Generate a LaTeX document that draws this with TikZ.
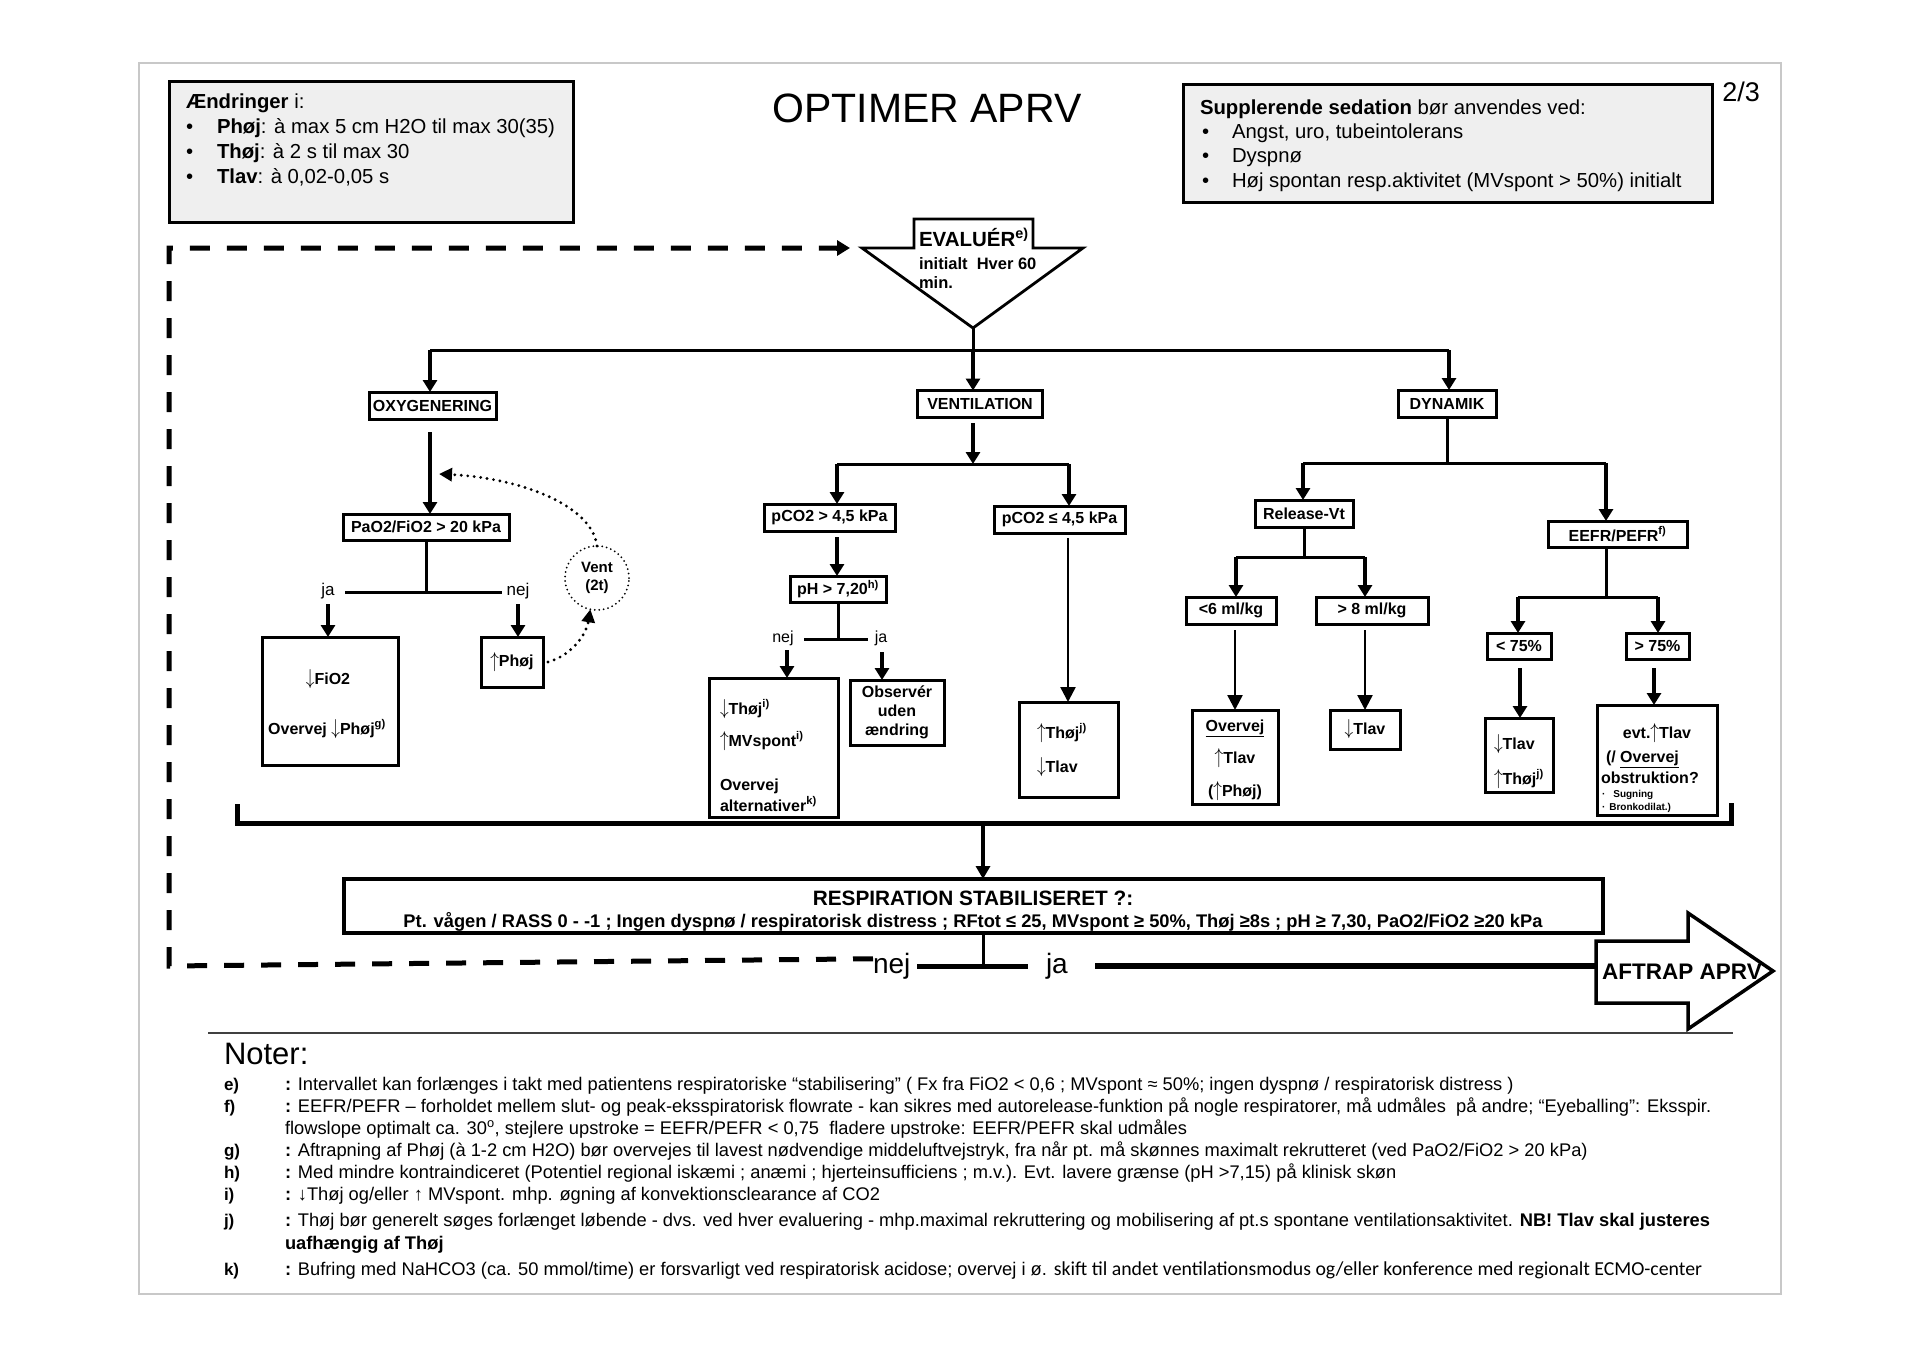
\documentclass[tikz,border=0pt]{standalone}
\usepackage{fontspec}
\setmainfont{Liberation Sans}
\newfontfamily\calfont{Carlito}
\usetikzlibrary{arrows.meta,calc}
\newcommand\fz[2]{\fontsize{#1}{#2}\selectfont}
\newcommand\ua{\raisebox{-0.03em}{\scalebox{1}[1.25]{$\uparrow$}}}
\newcommand\da{\raisebox{-0.03em}{\scalebox{1}[1.25]{$\downarrow$}}}
\definecolor{boxgray}{HTML}{EFEFEF}
\definecolor{framegray}{HTML}{C8C8C8}
\begin{document}
\begin{tikzpicture}[x=1pt,y=-1pt,
 every node/.style={inner sep=0pt,outer sep=0pt},
 bx/.style={draw,line width=3pt,align=center,font=\bfseries\fz{16}{19}},
 tx/.style={anchor=base west},
 ln/.style={line width=3pt},
 thk/.style={line width=4.5pt,-{Triangle[length=12pt,width=14pt]}},
 thn/.style={line width=2.5pt,-{Triangle[length=15pt,width=15pt]}},
 dsh/.style={line width=5pt,dash pattern=on 20pt off 17pt},
 dots/.style={line width=3.2pt,dash pattern=on 0pt off 6.5pt,line cap=round},
 note/.style={anchor=base west,font=\fz{18.3}{20}},
 nlab/.style={anchor=base west,font=\bfseries\fz{17}{20}},
]
\fill[white] (0,0) rectangle (1920,1358);
\useasboundingbox (0,0) rectangle (1920,1358);
\draw[framegray,line width=1.5pt] (139,63) rectangle (1781,1294);

% title and info boxes
\node[font=\fz{41}{48},anchor=base] (title) at (927,122) {OPTIMER APRV};
\node[draw,fill=boxgray,line width=3pt,minimum width=404,minimum height=141] (aendbox) at (371,151.5) {};
\node[tx,font=\fz{20.3}{24}] (a0) at (186,108) {\textbf{Ændringer} i:};
\node[tx,font=\fz{20.3}{24}] (a1b) at (186,133) {•};
\node[tx,font=\fz{20.3}{24}] (a1) at (217,133) {\textbf{Phøj}: à max 5 cm H2O til max 30(35)};
\node[tx,font=\fz{20.3}{24}] (a2b) at (186,158) {•};
\node[tx,font=\fz{20.3}{24}] (a2) at (217,158) {\textbf{Thøj}: à 2 s til max 30};
\node[tx,font=\fz{20.3}{24}] (a3b) at (186,183) {•};
\node[tx,font=\fz{20.3}{24}] (a3) at (217,183) {\textbf{Tlav}: à 0,02-0,05 s};

\node[draw,fill=boxgray,line width=3pt,minimum width=529,minimum height=118] (suppbox) at (1447.5,143) {};
\node[tx,font=\fz{20.3}{24}] (s0) at (1200,114) {\textbf{Supplerende sedation} bør anvendes ved:};
\node[tx,font=\fz{20.3}{24}] (s1b) at (1202,138) {•};
\node[tx,font=\fz{20.3}{24}] (s1) at (1232,138) {Angst, uro, tubeintolerans};
\node[tx,font=\fz{20.3}{24}] (s2b) at (1202,162) {•};
\node[tx,font=\fz{20.3}{24}] (s2) at (1232,162) {Dyspnø};
\node[tx,font=\fz{20.3}{24}] (s3b) at (1202,187) {•};
\node[tx,font=\fz{20.3}{24}] (s3) at (1232,187) {Høj spontan resp.aktivitet (MVspont > 50\%) initialt};
\node[anchor=base,font=\fz{27}{30}] (page) at (1741,101) {2/3};

% evaluate shape
\draw[line width=2.8pt,line join=miter] (862,248) -- (914,248) -- (914,219) -- (1033,219) -- (1033,248) -- (1083,248) -- (973,328) -- cycle;
\node[tx,font=\bfseries\fz{20.5}{24}] (evalT) at (919,246) {EVALUÉR\textsuperscript{e)}};
\node[tx,font=\bfseries\fz{16.5}{18}] (evalS1) at (919,269) {initialt\ \ Hver 60};
\node[tx,font=\bfseries\fz{16.5}{18}] (evalS2) at (919,288) {min.};
\coordinate (apex) at (973,328);
\coordinate (evtip) at (850,248);

% level 1
\node[bx,minimum width=127,minimum height=27] (oxy) at (432.5,405.5) {OXYGENERING};
\node[bx,minimum width=125,minimum height=27] (ventl) at (980,404) {VENTILATION};
\node[bx,minimum width=98,minimum height=27] (dyn) at (1447,403.5) {DYNAMIK};
\coordinate (mainC) at (973,350);
\coordinate (mainL) at (430,350);
\coordinate (mainR) at (1449,350);
\draw[ln] (apex) -- (mainC);
\draw[ln] (mainL) -- (mainR);
\draw[thk] (mainL) -- (mainL |- oxy.north);
\draw[thk] (mainC) -- (mainC |- ventl.north);
\draw[thk] (mainR) -- (mainR |- dyn.north);

% oxygenering
\node[bx,minimum width=166,minimum height=26] (pao) at (426,527) {PaO2/FiO2 > 20 kPa};
\coordinate (ox) at (430,432);
\draw[thk] (ox) -- (ox |- pao.north);
\coordinate (pj) at (426,592);
\coordinate (pjL) at (345,592);
\coordinate (pjR) at (502,592);
\draw[ln] (pao.south) -- (pj);
\draw[ln] (pjL) -- (pjR);
\node[anchor=base,font=\fz{17}{20}] (ja1) at (328,595) {ja};
\node[anchor=base,font=\fz{17}{20}] (nej1) at (518,595) {nej};
\node[bx,minimum width=136,minimum height=128] (fio) at (330,701) {};
\node[anchor=base,font=\bfseries\fz{16}{18}] (fioT1) at (328,684) {\da FiO2};
\node[anchor=base,font=\bfseries\fz{16}{18}] (fioT2) at (327,734) {Overvej \da Phøj\textsuperscript{g)}};
\node[bx,minimum width=62,minimum height=50] (phoj) at (512,662) {\ua Phøj};
\coordinate (jaA) at (328,604);
\coordinate (nejA) at (518,604);
\draw[thk] (jaA) -- (jaA |- fio.north);
\draw[thk] (nejA) -- (nejA |- phoj.north);
\node[draw,circle,line width=2pt,dash pattern=on 0pt off 4.5pt,line cap=round,minimum size=64,align=center,font=\bfseries\fz{15}{18}] (vent) at (597,578) {Vent\\(2t)};
\coordinate (oxyin) at (439,474);
\draw[dots,-{Triangle[length=13pt,width=13pt]}] ($(phoj.east)+(5,0)$) .. controls (570,656) and (586,636) .. (vent.-102);
\draw[dots,-{Triangle[length=13pt,width=13pt]}] (vent.north) .. controls (592,505) and (520,478) .. (oxyin);

% ventilation
\node[bx,minimum width=131,minimum height=27] (pco2a) at (829.5,517.5) {pCO2 > 4,5 kPa};
\node[bx,minimum width=131,minimum height=27] (pco2b) at (1059.5,519.5) {pCO2 ≤ 4,5 kPa};
\coordinate (vtop) at (973,423);
\coordinate (vj) at (973,464);
\coordinate (vjL) at (837,464);
\coordinate (vjR) at (1069,464);
\draw[thk] (vtop) -- (vj);
\draw[ln] (vjL) -- (vjR);
\draw[thk] (vjL) -- (vjL |- pco2a.north);
\draw[thk] (vjR) -- (vjR |- pco2b.north);
\node[bx,minimum width=96,minimum height=26] (ph) at (838,589) {pH > 7,20\textsuperscript{h)}};
\coordinate (pa) at (837,537);
\draw[thk] (pa) -- (pa |- ph.north);
\coordinate (phj) at (838,639);
\coordinate (phL) at (804,639);
\coordinate (phR) at (868,639);
\draw[ln] (ph.south) -- (phj);
\draw[ln] (phL) -- (phR);
\node[anchor=base,font=\fz{16}{18}] (nej2) at (783,642) {nej};
\node[anchor=base,font=\fz{16}{18}] (ja2) at (881,642) {ja};
\node[bx,minimum width=129,minimum height=139] (thoj) at (773.5,747.5) {};
\node[tx,font=\bfseries\fz{16}{18}] (thojT1) at (720,714) {\da Thøj\textsuperscript{i)}};
\node[tx,font=\bfseries\fz{16}{18}] (thojT2) at (720,746) {\ua MVspont\textsuperscript{i)}};
\node[tx,font=\bfseries\fz{16}{18}] (thojT3) at (720,790) {Overvej};
\node[tx,font=\bfseries\fz{16}{18}] (thojT4) at (720,811) {alternativer\textsuperscript{k)}};
\node[bx,minimum width=94,minimum height=65] (obs) at (897,712.5) {Observér\\uden\\ændring};
\coordinate (nejB2) at (787,650);
\coordinate (jaB2) at (882,652);
\draw[thk] (nejB2) -- (nejB2 |- thoj.north);
\draw[thk] (jaB2) -- (jaB2 |- obs.north);
\node[bx,minimum width=99,minimum height=95] (tt) at (1068.5,749.5) {};
\node[tx,font=\bfseries\fz{16}{18}] (ttT1) at (1037,738) {\ua Thøj\textsuperscript{j)}};
\node[tx,font=\bfseries\fz{16}{18}] (ttT2) at (1037,772) {\da Tlav};
\coordinate (pb) at (1068,538);
\draw[thn] (pb) -- (pb |- tt.north);

% dynamik
\node[bx,minimum width=98,minimum height=27] (rel) at (1304,513.5) {Release-Vt};
\node[bx,minimum width=139,minimum height=26] (eefr) at (1617.5,534) {EEFR/PEFR\textsuperscript{f)}};
\coordinate (dj) at (1447,463);
\coordinate (djL) at (1303,463);
\coordinate (djR) at (1606,463);
\draw[ln] (dyn.south) -- (dj);
\draw[ln] (djL) -- (djR);
\draw[thk] (djL) -- (djL |- rel.north);
\draw[thk] (djR) -- (djR |- eefr.north);
\node[bx,minimum width=90,minimum height=27] (lt6) at (1231,610.5) {<6 ml/kg};
\node[bx,minimum width=112,minimum height=27] (gt8) at (1372,610.5) {> 8 ml/kg};
\coordinate (rj) at (1304,557);
\coordinate (rjL) at (1236,557);
\coordinate (rjR) at (1365,557);
\draw[ln] (rel.south) -- (rj);
\draw[ln] (rjL) -- (rjR);
\draw[thk] (rjL) -- (rjL |- lt6.north);
\draw[thk] (rjR) -- (rjR |- gt8.north);
\node[bx,minimum width=86,minimum height=94] (ovt) at (1235,757) {};
\node[anchor=base,font=\bfseries\fz{16}{18}] (ovtT1) at (1235,731) {\underline{Overvej}};
\node[anchor=base,font=\bfseries\fz{16}{18}] (ovtT2) at (1235,763) {\ua Tlav};
\node[anchor=base,font=\bfseries\fz{16}{18}] (ovtT3) at (1235,796) {(\ua Phøj)};
\node[bx,minimum width=70,minimum height=39] (tlav) at (1365,729.5) {\da Tlav};
\coordinate (l6a) at (1235,630);
\coordinate (g8a) at (1365,630);
\draw[thn] (l6a) -- (l6a |- ovt.north);
\draw[thn] (g8a) -- (g8a |- tlav.north);
\node[bx,minimum width=64,minimum height=26] (lt75) at (1519,646) {< 75\%};
\node[bx,minimum width=63,minimum height=26] (gt75) at (1657.5,646) {> 75\%};
\coordinate (ej0) at (1606,547);
\coordinate (ej) at (1606,597);
\coordinate (ejL) at (1518,597);
\coordinate (ejR) at (1658,597);
\draw[ln] (ej0) -- (ej);
\draw[ln] (ejL) -- (ejR);
\draw[thk] (ejL) -- (ejL |- lt75.north);
\draw[thk] (ejR) -- (ejR |- gt75.north);
\node[bx,minimum width=68,minimum height=74] (tl2) at (1519,755) {};
\node[tx,font=\bfseries\fz{16}{18}] (tl2T1) at (1494,749) {\da Tlav};
\node[tx,font=\bfseries\fz{16}{18}] (tl2T2) at (1494,784) {\ua Thøj\textsuperscript{j)}};
\node[bx,minimum width=120,minimum height=110] (evt) at (1657,760) {};
\node[anchor=base,font=\bfseries\fz{16}{18}] (evtT1) at (1657,738) {evt.\ua Tlav};
\node[tx,font=\bfseries\fz{16}{18}] (evtT2) at (1606,762) {(/ \underline{Overvej}};
\node[tx,font=\bfseries\fz{16}{18}] (evtT3) at (1601,783) {obstruktion?};
\node[tx,font=\bfseries\fz{10}{12}] (evtT4) at (1602,797) {·\hspace{8pt}Sugning};
\node[tx,font=\bfseries\fz{10}{12}] (evtT5) at (1602,810) {·\hspace{4pt}Bronkodilat.)};
\coordinate (l75a) at (1520,668);
\coordinate (g75a) at (1654,668);
\draw[thk] (l75a) -- (l75a |- tl2.north);
\draw[thk] (g75a) -- (g75a |- evt.north);

% collector and result
\coordinate (colLt) at (237,804);
\coordinate (colL) at (237,823);
\coordinate (colR) at (1731,823);
\coordinate (colRt) at (1731,803);
\coordinate (colM) at (983,823);
\draw[line width=5pt] (colLt) -- (colL) -- (colR) -- (colRt);
\node[draw,line width=3.5pt,minimum width=1259,minimum height=54] (resp) at (973.5,906) {};
\draw[line width=3.5pt,-{Triangle[length=13pt,width=14pt]}] (colM) -- (colM |- resp.north);
\node[anchor=base,font=\bfseries\fz{20.8}{22}] (respT1) at (973,905) {RESPIRATION STABILISERET ?:};
\node[anchor=base,font=\bfseries\fz{18.3}{20}] (respT2) at (973,927) {Pt. vågen / RASS 0 - -1 ; Ingen dyspnø / respiratorisk distress ; RFtot ≤ 25, MVspont ≥ 50\%, Thøj ≥8s ; pH ≥ 7,30, PaO2/FiO2 ≥20 kPa};
\coordinate (rj2) at (983,966);
\coordinate (rjL2) at (917,966);
\coordinate (rjR2) at (1028,966);
\draw[line width=3pt] (resp.south -| rj2) -- (rj2);
\draw[line width=5pt] (rjL2) -- (rjR2);
\node[tx,font=\fz{28}{30}] (nejB) at (873,973) {nej};
\node[tx,font=\fz{28}{30}] (jaB) at (1046,973) {ja};
\draw[line width=3.5pt,line join=miter] (1596,941) -- (1688,941) -- (1688,913) -- (1773,971) -- (1688,1029) -- (1688,1003) -- (1596,1003) -- cycle;
\node[font=\bfseries\fz{22.5}{25}] (aftrap) at (1682,972) {AFTRAP APRV};
\coordinate (jaS) at (1095,966);
\coordinate (aftW) at (1596,966);
\draw[line width=6pt] (jaS) -- (aftW);
\coordinate (dBL) at (169,966);
\coordinate (dTL) at (169,248);
\draw[dsh] ($(nejB.west)+(0,-7)$) -- (dBL) -- (dTL) -- ($(evtip)+(-12,0)$);
\draw[line width=5pt,-{Triangle[length=13pt,width=15pt]}] ($(evtip)+(-14,0)$) -- (evtip);

% notes
\draw[line width=2pt,black!75] (208,1033) -- (1733,1033);
\node[tx,font=\fz{31}{34}] (noter) at (224,1064) {Noter:};
\node[nlab] (le) at (224,1090) {e)};
\node[note] (ne) at (285,1090) {\textbf{:} Intervallet kan forlænges i takt med patientens respiratoriske “stabilisering” ( Fx fra FiO2 < 0,6 ; MVspont ≈ 50\%; ingen dyspnø / respiratorisk distress )};
\node[nlab] (lf) at (224,1112) {f)};
\node[note] (nf) at (285,1112) {\textbf{:} EEFR/PEFR – forholdet mellem slut- og peak-eksspiratorisk flowrate - kan sikres med autorelease-funktion på nogle respiratorer, må udmåles\ \ på andre; “Eyeballing”: Eksspir.};
\node[note] (nf2) at (285,1134) {flowslope optimalt ca. 30\textsuperscript{o}, stejlere upstroke = EEFR/PEFR < 0,75\ \ fladere upstroke: EEFR/PEFR skal udmåles};
\node[nlab] (lg) at (224,1156) {g)};
\node[note] (ng) at (285,1156) {\textbf{:} Aftrapning af Phøj (à 1-2 cm H2O) bør overvejes til lavest nødvendige middeluftvejstryk, fra når pt. må skønnes maximalt rekrutteret (ved PaO2/FiO2 > 20 kPa)};
\node[nlab] (lh) at (224,1178) {h)};
\node[note] (nh) at (285,1178) {\textbf{:} Med mindre kontraindiceret (Potentiel regional iskæmi ; anæmi ; hjerteinsufficiens ; m.v.). Evt. lavere grænse (pH >7,15) på klinisk skøn};
\node[nlab] (li) at (224,1200) {i)};
\node[note] (ni) at (285,1200) {\textbf{:} ↓Thøj og/eller ↑ MVspont. mhp. øgning af konvektionsclearance af CO2};
\node[nlab] (lj) at (224,1226) {j)};
\node[note] (nj) at (285,1226) {\textbf{:} Thøj bør generelt søges forlænget løbende - dvs. ved hver evaluering - mhp.maximal rekruttering og mobilisering af pt.s spontane ventilationsaktivitet. \textbf{NB! Tlav skal justeres}};
\node[note] (nj2) at (285,1249) {\textbf{uafhængig af Thøj}};
\node[nlab] (lk) at (224,1275) {k)};
\node[note] (nk) at (285,1275) {\textbf{:} Bufring med NaHCO3 (ca. 50 mmol/time) er forsvarligt ved respiratorisk acidose; overvej i ø. {\calfont\fz{19.8}{20}skift til andet ventilationsmodus og/eller konference med regionalt ECMO-center}};
\end{tikzpicture}
\end{document}
